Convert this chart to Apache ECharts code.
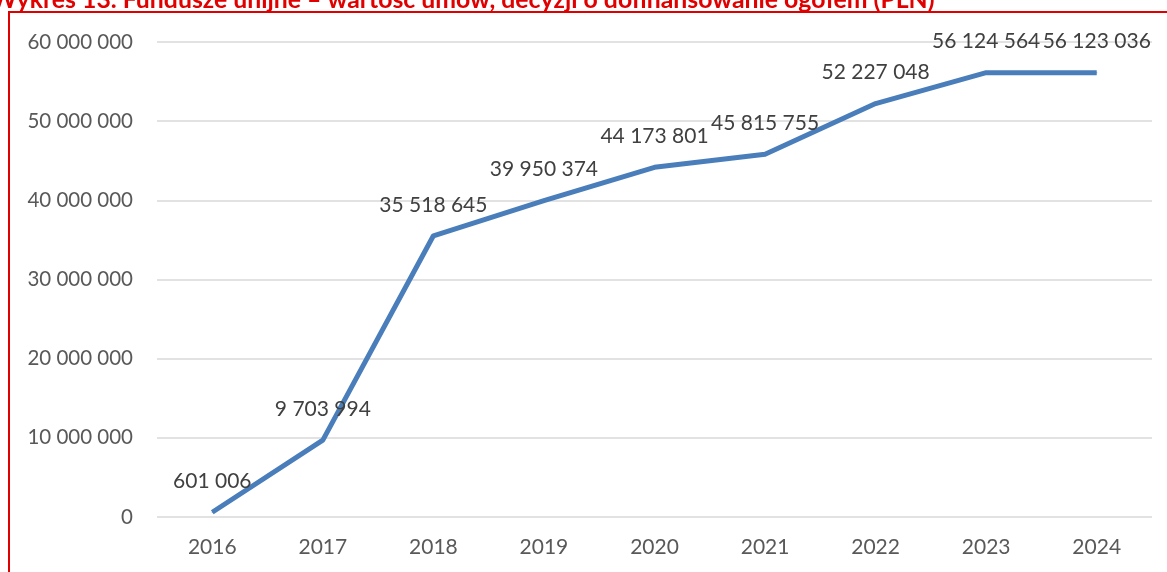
<!DOCTYPE html>
<html>
<head>
<meta charset="utf-8">
<script src="https://cdn.jsdelivr.net/npm/echarts@6/dist/echarts.min.js"></script>
<style>
  html, body { margin: 0; padding: 0; background: #fff; }
  #chart { width: 1167px; height: 572px; }
</style>
</head>
<body>
<div id="chart"></div>
<script>
// dane
const years = ['2016', '2017', '2018', '2019', '2020', '2021', '2022', '2023', '2024'];
const values = [601006, 9703994, 35518645, 39950374, 44173801, 45815755, 52227048, 56124564, 56123036];
const titleText = 'Wykres 13. Fundusze unijne – wartość umów, decyzji o dofinansowanie ogółem (PLN)';

const fmt = v => String(v).replace(/\B(?=(\d{3})+(?!\d))/g, ' ');
const FONT = 'Lato, "Open Sans", sans-serif';

const chart = echarts.init(document.getElementById('chart'));
chart.setOption({
  animation: false,
  graphic: [
    {
      type: 'text',
      left: -9,
      top: -12,
      style: {
        text: titleText,
        fill: '#e00000',
        font: 'bold 24.8px ' + FONT
      }
    },
    {
      type: 'rect',
      shape: { x: 9, y: 12, width: 1200, height: 620 },
      style: { fill: 'none', stroke: '#e00000', lineWidth: 2 }
    }
  ],
  grid: { left: 157, right: 15, top: 42, bottom: 55, containLabel: false },
  xAxis: {
    type: 'category',
    data: years,
    boundaryGap: true,
    axisLine: { show: false },
    axisTick: { show: false },
    axisLabel: { color: '#595959', fontSize: 21, fontFamily: FONT, margin: 20 }
  },
  yAxis: {
    type: 'value',
    min: 0,
    max: 60000000,
    interval: 10000000,
    axisLine: { show: false },
    axisTick: { show: false },
    axisLabel: { color: '#595959', fontSize: 20.5, fontFamily: FONT, margin: 24, formatter: fmt },
    splitLine: { lineStyle: { color: '#d9d9d9', width: 1.5 } }
  },
  series: [
    {
      type: 'line',
      data: values,
      showSymbol: true,
      symbol: 'circle',
      symbolSize: 1,
      itemStyle: { color: '#4a7ebb' },
      lineStyle: { color: '#4a7ebb', width: 5, join: 'round' },
      label: {
        show: true,
        position: 'top',
        distance: 20,
        color: '#404040',
        fontSize: 21,
        fontFamily: FONT,
        formatter: p => fmt(p.value)
      }
    }
  ]
});
</script>
</body>
</html>
